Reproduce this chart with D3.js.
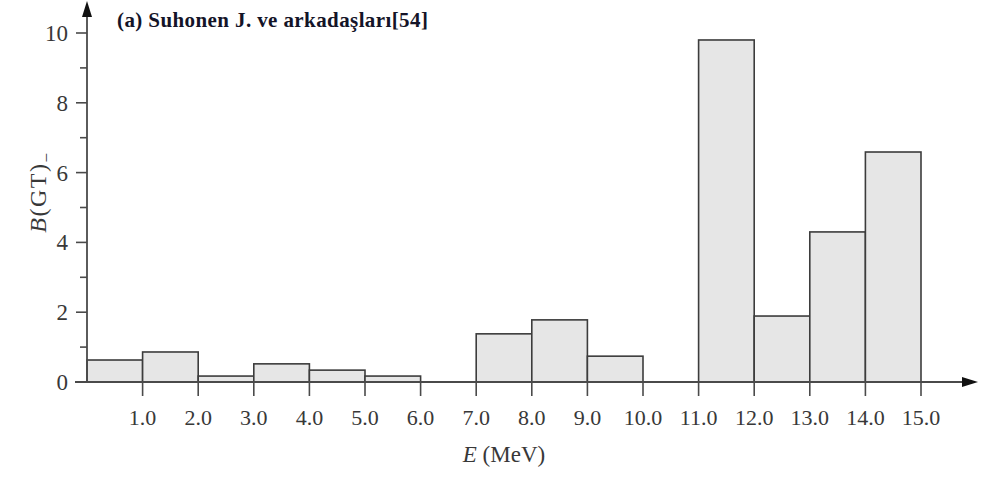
<!DOCTYPE html>
<html>
<head>
<meta charset="utf-8">
<script src="https://cdn.jsdelivr.net/npm/d3@7"></script>
<style>
  html, body { margin: 0; padding: 0; background: #fff; }
  svg { display: block; }
</style>
</head>
<body>
<svg id="chart" width="987" height="481"></svg>
<script>
// Gamow-Teller strength per 1 MeV energy bin
const binLow = [0, 1, 2, 3, 4, 5, 6, 7, 8, 9, 10, 11, 12, 13, 14];
const bgt    = [0.63, 0.86, 0.17, 0.52, 0.34, 0.17, 0, 1.38, 1.78, 0.74, 0, 9.8, 1.89, 4.3, 6.59];
const xTicks = [1, 2, 3, 4, 5, 6, 7, 8, 9, 10, 11, 12, 13, 14, 15];
const yMajor = [0, 2, 4, 6, 8, 10];
const yMinor = [1, 3, 5, 7, 9];
const title = "(a) Suhonen J. ve arkadaşları[54]";

const svg = d3.select("#chart");
const x = d3.scaleLinear().domain([0, 15]).range([87, 921]);
const y = d3.scaleLinear().domain([0, 10]).range([382, 33]);

const axisColor = "#4a4a4a";
const labelColor = "#383838";
const serif = "'Liberation Serif', 'DejaVu Serif', serif";

// bars
const bins = binLow.map((lo, i) => ({ lo, hi: lo + 1, v: bgt[i] })).filter(d => d.v > 0);
svg.append("g").selectAll("rect").data(bins).join("rect")
  .attr("x", d => x(d.lo))
  .attr("y", d => y(d.v))
  .attr("width", d => x(d.hi) - x(d.lo))
  .attr("height", d => y(0) - y(d.v))
  .attr("fill", "#e6e6e6")
  .attr("stroke", "#3c3c3c")
  .attr("stroke-width", 1.6);

// x axis: line with arrow, ticks hanging below
const gx = svg.append("g");
gx.append("line")
  .attr("x1", x(0) - 12).attr("x2", 965)
  .attr("y1", y(0)).attr("y2", y(0))
  .attr("stroke", axisColor).attr("stroke-width", 1.8);
gx.append("path")
  .attr("d", `M978,${y(0)} L962,${y(0) - 5} L962,${y(0) + 5} Z`)
  .attr("fill", "#111");
gx.selectAll("line.tick").data(xTicks).join("line")
  .attr("class", "tick")
  .attr("x1", d => x(d)).attr("x2", d => x(d))
  .attr("y1", y(0)).attr("y2", y(0) + 14)
  .attr("stroke", axisColor).attr("stroke-width", 1.6);
gx.selectAll("text").data(xTicks).join("text")
  .attr("x", d => x(d))
  .attr("y", 425)
  .attr("text-anchor", "middle")
  .attr("font-family", serif)
  .attr("font-size", 22)
  .attr("fill", labelColor)
  .text(d => d3.format(".1f")(d));

// y axis: line with arrow, major and minor ticks on the left
const gy = svg.append("g");
gy.append("line")
  .attr("x1", x(0)).attr("x2", x(0))
  .attr("y1", y(0)).attr("y2", 14)
  .attr("stroke", axisColor).attr("stroke-width", 1.8);
gy.append("path")
  .attr("d", `M${x(0)},1 L${x(0) - 5},17 L${x(0) + 5},17 Z`)
  .attr("fill", "#111");
gy.selectAll("line.major").data(yMajor).join("line")
  .attr("class", "major")
  .attr("x1", x(0) - 11).attr("x2", x(0))
  .attr("y1", d => y(d)).attr("y2", d => y(d))
  .attr("stroke", axisColor).attr("stroke-width", 1.6);
gy.selectAll("line.minor").data(yMinor).join("line")
  .attr("class", "minor")
  .attr("x1", x(0) - 7).attr("x2", x(0))
  .attr("y1", d => y(d)).attr("y2", d => y(d))
  .attr("stroke", axisColor).attr("stroke-width", 1.6);
gy.selectAll("text").data(yMajor).join("text")
  .attr("x", x(0) - 19)
  .attr("y", d => y(d) + 8)
  .attr("text-anchor", "end")
  .attr("font-family", serif)
  .attr("font-size", 23)
  .attr("fill", labelColor)
  .text(d => d);

// axis titles
const xt = svg.append("text")
  .attr("x", 504).attr("y", 462)
  .attr("text-anchor", "middle")
  .attr("font-family", serif)
  .attr("font-size", 23)
  .attr("fill", labelColor);
xt.append("tspan").attr("font-style", "italic").text("E");
xt.append("tspan").text(" (MeV)");

const yt = svg.append("text")
  .attr("transform", "translate(46,192) rotate(-90)")
  .attr("text-anchor", "middle")
  .attr("font-family", serif)
  .attr("font-size", 24)
  .attr("letter-spacing", 1.5)
  .attr("fill", labelColor);
yt.append("tspan").attr("font-style", "italic").text("B");
yt.append("tspan").text("(GT)");
yt.append("tspan").attr("dy", 6).attr("font-size", 17).text("−");

// panel title
svg.append("text")
  .attr("x", 117).attr("y", 27)
  .attr("font-family", serif)
  .attr("font-size", 21)
  .attr("font-weight", "bold")
  .attr("letter-spacing", 0.4)
  .attr("fill", "#141428")
  .text(title);
</script>
</body>
</html>
